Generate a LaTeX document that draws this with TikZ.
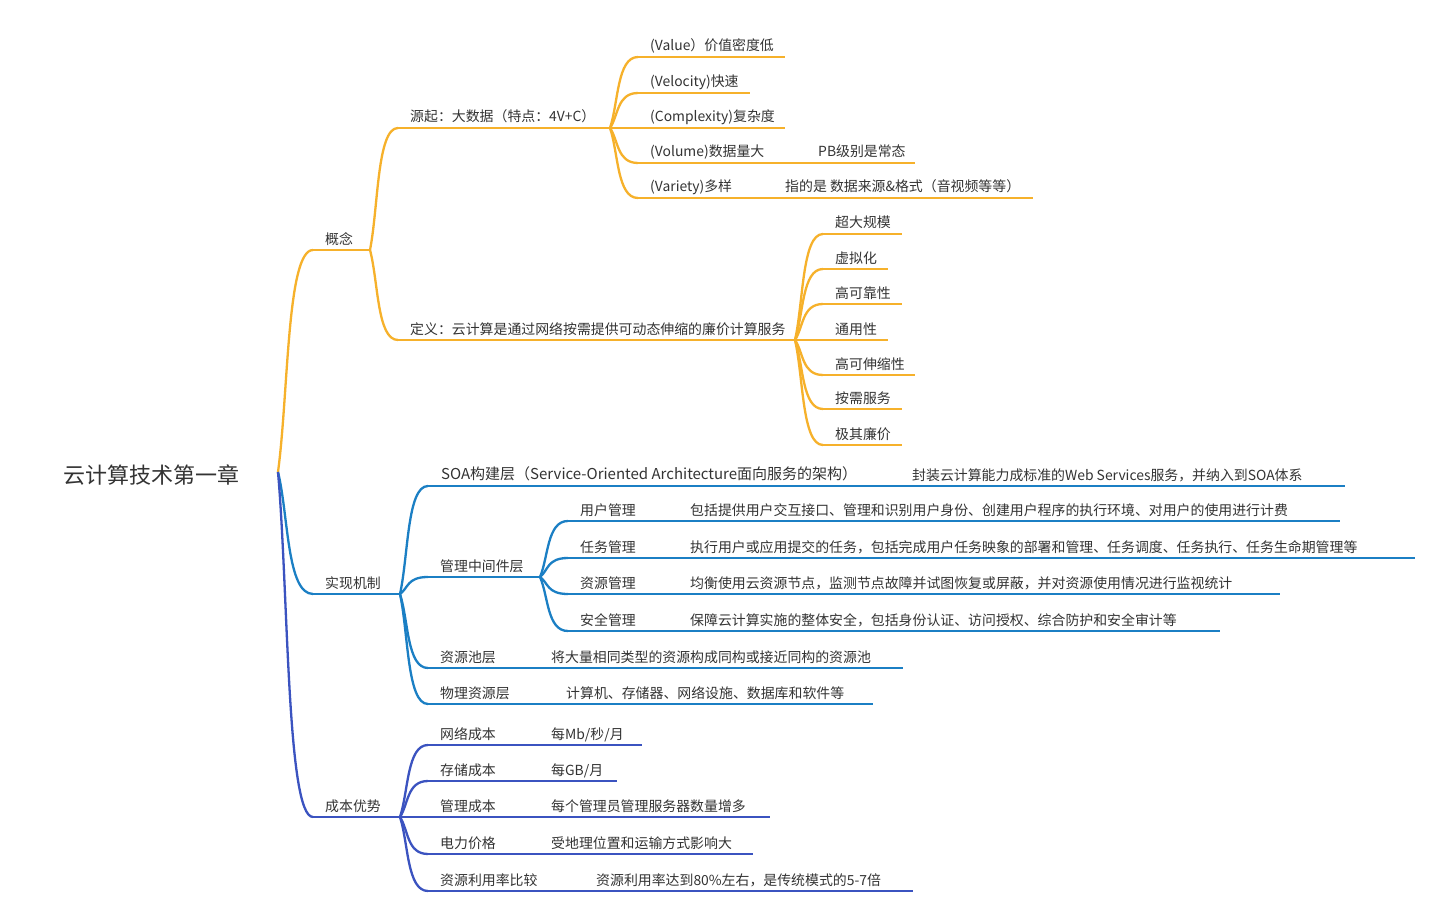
\documentclass[tikz,border=0pt]{standalone}
\usepackage{fontspec}
\setmainfont{Noto Sans CJK SC}
\usetikzlibrary{calc}
\definecolor{cO}{HTML}{F6B12B}
\definecolor{cB}{HTML}{1B7FC4}
\definecolor{cP}{HTML}{3B53C0}
\definecolor{tx}{HTML}{333333}
\newcommand\lnk[3]{\draw[#1,line width=2.3pt] let \p1=(#2), \p2=(#3), \n1={\x2-\x1}, \n2={\y2-\y1} in (\p1) .. controls +(0.3*\n1,0.35*\n2) and +(-0.75*\n1,0) .. (\p2);}
% name, color, x, y, xend, text
\newcommand\leaf[6]{\coordinate (#1) at (#3,#4); \coordinate (#1e) at (#5,#4); \draw[#2,line width=2.3pt] (#1)--(#1e); \node[lbl] (#1t) at ($(#1)+(12,-6)$) {#6};}
\newcommand\sub[4]{\node[lbl] (#1) at (#2,#3-6) {#4};}
\begin{document}
\begin{tikzpicture}[x=1pt,y=-1pt,lbl/.style={anchor=base west,inner sep=0,text=tx,font=\fontsize{13.9}{16}\selectfont}]
\useasboundingbox[fill=white] (0,0) rectangle (1440,920);
\node[anchor=base west,inner sep=0,text=tx,font=\fontsize{22}{25}\selectfont] (root) at (63,483) {云计算技术第一章};
\coordinate (r) at (278,472);
% level 1
\leaf{gn}{cO}{313}{250}{370}{概念}
\leaf{sx}{cB}{313}{594}{400}{实现机制}
\leaf{cb}{cP}{313}{817}{400}{成本优势}
\lnk{cO}{r}{gn}\lnk{cB}{r}{sx}\lnk{cP}{r}{cb}
% 概念
\leaf{yq}{cO}{398}{128}{610}{源起：大数据（特点：4V+C）}
\leaf{dy}{cO}{398}{340}{795}{定义：云计算是通过网络按需提供可动态伸缩的廉价计算服务}
\lnk{cO}{gne}{yq}\lnk{cO}{gne}{dy}
\leaf{v1}{cO}{638}{57}{785}{(Value）价值密度低}
\leaf{v2}{cO}{638}{93}{750}{(Velocity)快速}
\leaf{v3}{cO}{638}{128}{785}{(Complexity)复杂度}
\leaf{v4}{cO}{638}{163}{915}{(Volume)数据量大}
\sub{v4s}{818}{163}{PB级别是常态}
\leaf{v5}{cO}{638}{198}{1033}{(Variety)多样}
\sub{v5s}{785}{198}{指的是 数据来源\&格式（音视频等等）}
\foreach \q in {v1,v2,v3,v4,v5}{\lnk{cO}{yqe}{\q}}
\leaf{d1}{cO}{823}{234}{902}{超大规模}
\leaf{d2}{cO}{823}{269}{888}{虚拟化}
\leaf{d3}{cO}{823}{304}{902}{高可靠性}
\leaf{d4}{cO}{823}{340}{888}{通用性}
\leaf{d5}{cO}{823}{375}{915}{高可伸缩性}
\leaf{d6}{cO}{823}{409}{902}{按需服务}
\leaf{d7}{cO}{823}{445}{902}{极其廉价}
\foreach \q in {d1,d2,d3,d4,d5,d6,d7}{\lnk{cO}{dye}{\q}}
% 实现机制
\coordinate (soa) at (428,486); \coordinate (soae) at (1345,486);
\draw[cB,line width=2.3pt] (soa)--(soae);
\node[lbl,font=\fontsize{15}{17}\selectfont] (soat) at (441,479) {SOA构建层（Service-Oriented Architecture面向服务的架构）};
\sub{soas}{912}{486}{封装云计算能力成标准的Web Services服务，并纳入到SOA体系}
\leaf{mw}{cB}{428}{577}{540}{管理中间件层}
\leaf{zc}{cB}{428}{668}{903}{资源池层}
\sub{zcs}{551}{668}{将大量相同类型的资源构成同构或接近同构的资源池}
\leaf{wl}{cB}{428}{704}{873}{物理资源层}
\sub{wls}{566}{704}{计算机、存储器、网络设施、数据库和软件等}
\foreach \q in {soa,mw,zc,wl}{\lnk{cB}{sxe}{\q}}
\leaf{m1}{cB}{568}{521}{1340}{用户管理}
\sub{m1s}{690}{521}{包括提供用户交互接口、管理和识别用户身份、创建用户程序的执行环境、对用户的使用进行计费}
\leaf{m2}{cB}{568}{558}{1415}{任务管理}
\sub{m2s}{690}{558}{执行用户或应用提交的任务，包括完成用户任务映象的部署和管理、任务调度、任务执行、任务生命期管理等}
\leaf{m3}{cB}{568}{594}{1280}{资源管理}
\sub{m3s}{690}{594}{均衡使用云资源节点，监测节点故障并试图恢复或屏蔽，并对资源使用情况进行监视统计}
\leaf{m4}{cB}{568}{631}{1220}{安全管理}
\sub{m4s}{690}{631}{保障云计算实施的整体安全，包括身份认证、访问授权、综合防护和安全审计等}
\foreach \q in {m1,m2,m3,m4}{\lnk{cB}{mwe}{\q}}
% 成本优势
\leaf{c1}{cP}{428}{745}{642}{网络成本}
\sub{c1s}{551}{745}{每Mb/秒/月}
\leaf{c2}{cP}{428}{781}{617}{存储成本}
\sub{c2s}{551}{781}{每GB/月}
\leaf{c3}{cP}{428}{817}{770}{管理成本}
\sub{c3s}{551}{817}{每个管理员管理服务器数量增多}
\leaf{c4}{cP}{428}{854}{753}{电力价格}
\sub{c4s}{551}{854}{受地理位置和运输方式影响大}
\leaf{c5}{cP}{428}{891}{913}{资源利用率比较}
\sub{c5s}{596}{891}{资源利用率达到80\%左右，是传统模式的5-7倍}
\foreach \q in {c1,c2,c3,c4,c5}{\lnk{cP}{cbe}{\q}}
\end{tikzpicture}
\end{document}
